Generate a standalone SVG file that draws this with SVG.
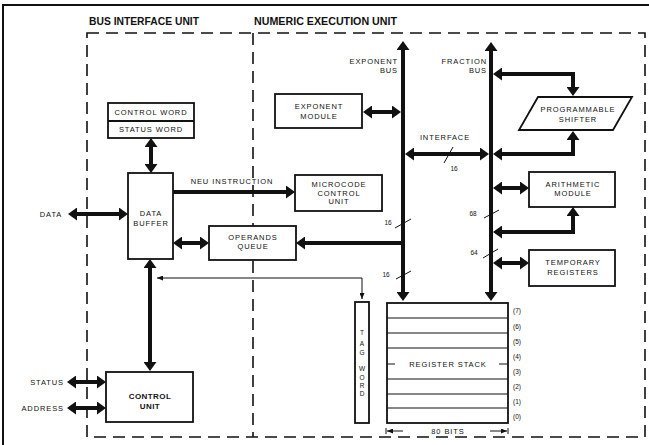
<svg xmlns="http://www.w3.org/2000/svg" width="649" height="445" viewBox="0 0 649 445">
<style>
.bg{fill:#fff}
.frame{fill:none;stroke:#111;stroke-width:2}
.dash{fill:none;stroke:#111;stroke-width:1.6;stroke-dasharray:12 7}
.box{fill:#fff;stroke:#111;stroke-width:1.8}
.row{fill:none;stroke:#111;stroke-width:1.2}
.bus{fill:none;stroke:#111;stroke-width:4}
.thin{fill:none;stroke:#111;stroke-width:1}
.l{font-family:"Liberation Sans",Arial,sans-serif;font-size:7.5px;letter-spacing:0.9px;fill:#111;text-anchor:middle}
.s{font-family:"Liberation Sans",Arial,sans-serif;font-size:6.5px;fill:#111;text-anchor:middle}
.b{font-family:"Liberation Sans",Arial,sans-serif;font-size:8px;font-weight:bold;letter-spacing:0.4px;fill:#111;text-anchor:middle}
.h{font-family:"Liberation Sans",Arial,sans-serif;font-size:11px;font-weight:bold;fill:#111}
.r{text-anchor:end}
</style>
<defs>
<marker id="ah" viewBox="0 0 9 13" markerWidth="9" markerHeight="13" refX="1" refY="6.5" markerUnits="userSpaceOnUse" orient="auto-start-reverse">
<path d="M0,0 L9,6.5 L0,13 Z" fill="#111"/>
</marker>
<marker id="sa" viewBox="0 0 6 5" markerWidth="6" markerHeight="5" refX="6" refY="2.5" markerUnits="userSpaceOnUse" orient="auto-start-reverse">
<path d="M0,0 L6,2.5 L0,5 Z" fill="#111"/>
</marker>
</defs>
<rect class="bg" x="0" y="0" width="649" height="445"/>
<g id="frame">
<path class="frame" d="M3,445 V5 H649"/>
<rect class="dash" x="87" y="33" width="558" height="404"/>
<path class="dash" d="M253,33 V437"/>
<text class="h" x="89" y="25" textLength="110" lengthAdjust="spacingAndGlyphs">BUS INTERFACE UNIT</text>
<text class="h" x="254" y="25" textLength="143" lengthAdjust="spacingAndGlyphs">NUMERIC EXECUTION UNIT</text>
</g>
<g id="connectors">
<path class="bus" d="M403,49 V293" marker-start="url(#ah)" marker-end="url(#ah)"/>
<path class="bus" d="M491,50 V293" marker-start="url(#ah)" marker-end="url(#ah)"/>
<path class="bus" d="M371,112 H393" marker-start="url(#ah)" marker-end="url(#ah)"/>
<path class="bus" d="M501,74 H573 V88" marker-start="url(#ah)" marker-end="url(#ah)"/>
<path class="bus" d="M413,154 H481" marker-start="url(#ah)" marker-end="url(#ah)"/>
<path class="bus" d="M501,154 H573 V139" marker-start="url(#ah)" marker-end="url(#ah)"/>
<path class="bus" d="M501,188 H521" marker-start="url(#ah)" marker-end="url(#ah)"/>
<path class="bus" d="M501,232 H573 V215" marker-start="url(#ah)" marker-end="url(#ah)"/>
<path class="bus" d="M501,263 H521" marker-start="url(#ah)" marker-end="url(#ah)"/>
<path class="bus" d="M403,243 H304" marker-end="url(#ah)"/>
<path class="bus" d="M181,243 H201" marker-start="url(#ah)" marker-end="url(#ah)"/>
<path class="bus" d="M173,192 H287" marker-end="url(#ah)"/>
<path class="bus" d="M151,146 V165" marker-start="url(#ah)" marker-end="url(#ah)"/>
<path class="bus" d="M76,214 H120" marker-start="url(#ah)" marker-end="url(#ah)"/>
<path class="bus" d="M150,267 V363" marker-start="url(#ah)" marker-end="url(#ah)"/>
<path class="bus" d="M75,382 H98" marker-start="url(#ah)" marker-end="url(#ah)"/>
<path class="bus" d="M75,408 H98" marker-start="url(#ah)" marker-end="url(#ah)"/>
<path class="thin" d="M157,278 H362 V299" marker-start="url(#sa)" marker-end="url(#sa)"/>
<path class="thin" d="M395,228 L411,219"/>
<path class="thin" d="M396,279 L411,271"/>
<path class="thin" d="M444,163 L453,147"/>
<path class="thin" d="M484,218 L499,210"/>
<path class="thin" d="M483,258 L498,249"/>
<text class="s" x="388" y="225">16</text>
<text class="s" x="386" y="277">16</text>
<text class="s" x="454" y="171">16</text>
<text class="s" x="473" y="216">68</text>
<text class="s" x="474" y="255">64</text>
<text class="l" x="232" y="184">NEU INSTRUCTION</text>
<text class="l" x="445" y="140">INTERFACE</text>
<text class="l r" x="398" y="64">EXPONENT</text>
<text class="l r" x="398" y="73">BUS</text>
<text class="l r" x="487" y="64">FRACTION</text>
<text class="l r" x="487" y="73">BUS</text>
<text class="l" x="51" y="217">DATA</text>
<text class="l r" x="64" y="385">STATUS</text>
<text class="l r" x="64" y="411">ADDRESS</text>
</g>
<g id="control-status-word">
<rect class="box" x="108" y="103" width="86" height="35"/>
<path class="box" d="M108,121 H194"/>
<text class="l" x="151" y="115">CONTROL WORD</text>
<text class="l" x="151" y="132">STATUS WORD</text>
</g>
<g id="data-buffer">
<rect class="box" x="128" y="173" width="45" height="86"/>
<text class="l" x="151" y="216">DATA</text>
<text class="l" x="151" y="226">BUFFER</text>
</g>
<g id="microcode-control-unit">
<rect class="box" x="295" y="175" width="87" height="36"/>
<text class="l" x="339" y="187">MICROCODE</text>
<text class="l" x="339" y="196">CONTROL</text>
<text class="l" x="339" y="204">UNIT</text>
</g>
<g id="operands-queue">
<rect class="box" x="209" y="226" width="87" height="34"/>
<text class="l" x="253" y="240">OPERANDS</text>
<text class="l" x="253" y="249">QUEUE</text>
</g>
<g id="control-unit">
<rect class="box" x="106" y="372" width="87" height="50"/>
<text class="b" x="150" y="399">CONTROL</text>
<text class="b" x="150" y="409">UNIT</text>
</g>
<g id="exponent-module">
<rect class="box" x="275" y="94" width="87" height="34"/>
<text class="l" x="319" y="109">EXPONENT</text>
<text class="l" x="319" y="119">MODULE</text>
</g>
<g id="programmable-shifter">
<polygon class="box" points="538,97 632,97 613,130 519,130"/>
<text class="l" x="578" y="112">PROGRAMMABLE</text>
<text class="l" x="578" y="122">SHIFTER</text>
</g>
<g id="arithmetic-module">
<rect class="box" x="529" y="172" width="86" height="35"/>
<text class="l" x="573" y="187">ARITHMETIC</text>
<text class="l" x="573" y="196">MODULE</text>
</g>
<g id="temporary-registers">
<rect class="box" x="529" y="250" width="86" height="36"/>
<text class="l" x="573" y="265">TEMPORARY</text>
<text class="l" x="573" y="275">REGISTERS</text>
</g>
<g id="tag-word">
<rect class="box" x="355" y="302" width="14" height="121"/>
<text class="s" x="362" y="335">T</text>
<text class="s" x="362" y="346">A</text>
<text class="s" x="362" y="355">G</text>
<text class="s" x="362" y="371">W</text>
<text class="s" x="362" y="380">O</text>
<text class="s" x="362" y="388">R</text>
<text class="s" x="362" y="396">D</text>
</g>
<g id="register-stack">
<rect class="box" x="387" y="303" width="121" height="120"/>
<path class="row" d="M387,318 H508 M387,333 H508 M387,348 H508 M387,379 H508 M387,394 H508 M387,408 H508"/>
<path class="row" d="M387,364 H395 M499,364 H508"/>
<text class="l" x="448" y="367">REGISTER STACK</text>
<text class="s" x="517" y="313">(7)</text>
<text class="s" x="517" y="329">(6)</text>
<text class="s" x="517" y="344">(5)</text>
<text class="s" x="517" y="359">(4)</text>
<text class="s" x="517" y="374">(3)</text>
<text class="s" x="517" y="389">(2)</text>
<text class="s" x="517" y="404">(1)</text>
<text class="s" x="517" y="419">(0)</text>
<path class="thin" d="M403,431 H387" marker-end="url(#sa)"/>
<path class="thin" d="M490,431 H507" marker-end="url(#sa)"/>
<path class="thin" d="M386,428 V434 M508,428 V434"/>
<text class="l" x="448" y="434">80 BITS</text>
</g>
</svg>
